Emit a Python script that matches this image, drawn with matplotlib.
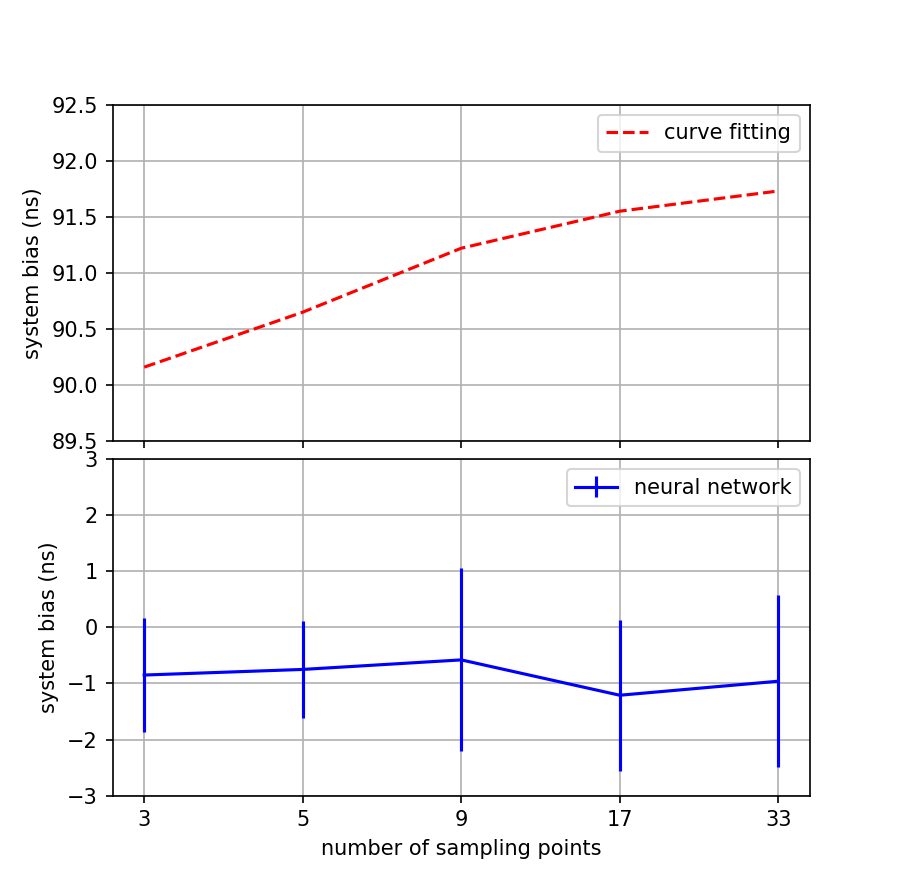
import matplotlib
matplotlib.use("Agg")
import matplotlib.pyplot as plt

samples = [3, 5, 9, 17, 33]
curve_fit = [90.16, 90.65, 91.22, 91.55, 91.73]
nn_mean = [-0.85, -0.75, -0.58, -1.21, -0.96]
nn_err = [1.02, 0.86, 1.63, 1.35, 1.53]

x = list(range(len(samples)))

fig, (ax1, ax2) = plt.subplots(2, 1, sharex=True, figsize=(6, 5.96), dpi=150)
fig.subplots_adjust(left=0.125, right=0.9, top=0.883, bottom=0.11, hspace=0.053)

ax1.plot(x, curve_fit, 'r--', label='curve fitting')
ax1.set_ylim(89.5, 92.5)
ax1.set_ylabel('system bias (ns)')
ax1.grid(True)
ax1.legend(loc='upper right')

ax2.errorbar(x, nn_mean, yerr=nn_err, color='b', label='neural network')
ax2.set_ylim(-3, 3)
ax2.set_ylabel('system bias (ns)')
ax2.set_xlabel('number of sampling points')
ax2.set_xticks(x)
ax2.set_xticklabels([str(s) for s in samples])
ax2.grid(True)
ax2.legend(loc='upper right')

fig.savefig('out.png')
